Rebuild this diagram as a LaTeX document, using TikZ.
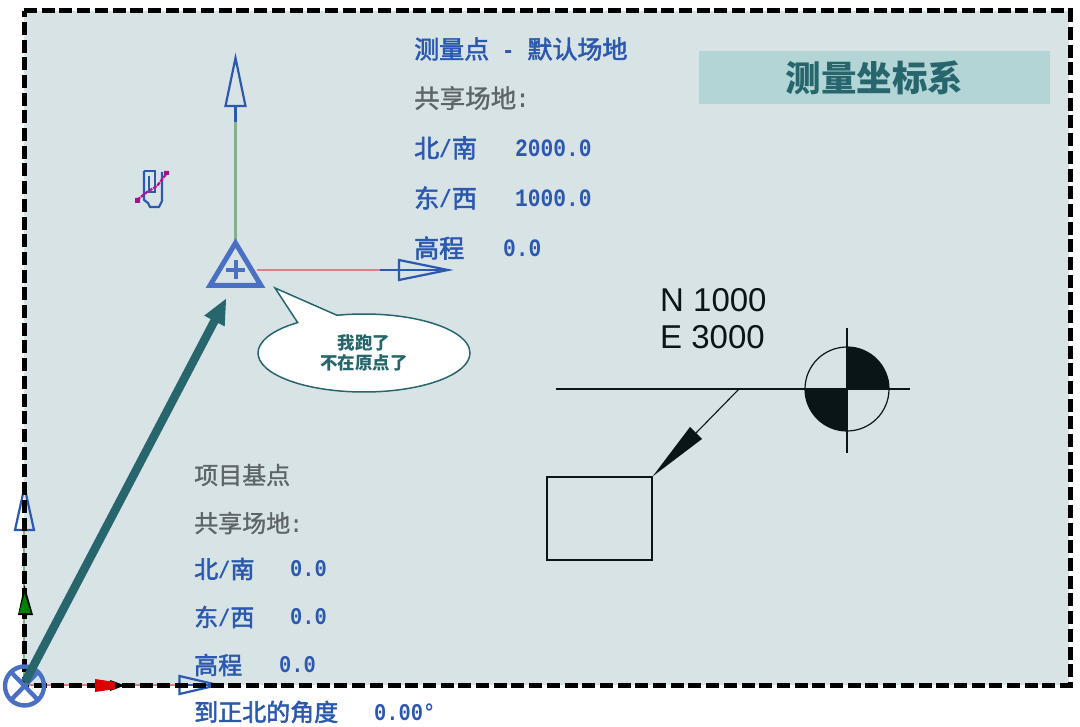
\documentclass[tikz,border=0pt]{standalone}
\usepackage{fontspec}
\setmainfont{Liberation Sans}
\newfontfamily\cjkf{Noto Sans CJK SC}
\newfontfamily\cjkb[FakeBold=2.2]{Noto Sans CJK SC}
\newfontfamily\cjkg[FakeBold=1.2]{Noto Sans CJK SC}
\newfontfamily\monof[FakeStretch=0.85]{Liberation Mono Bold}
\newcommand{\mo}[1]{{\monof #1}}
\usetikzlibrary{arrows.meta,shapes.callouts,shapes.geometric}
\definecolor{panel}{HTML}{D8E3E6}
\definecolor{titlebg}{HTML}{B4D5D6}
\definecolor{teal}{HTML}{26666C}
\definecolor{rvtblue}{HTML}{2C59B0}
\definecolor{markblue}{HTML}{4A70C4}
\definecolor{graytxt}{HTML}{5E6568}
\definecolor{axgreen}{HTML}{86B08C}
\definecolor{axred}{HTML}{DD8086}
\definecolor{ink}{HTML}{0A1518}
\tikzset{
  bluelab/.style={anchor=west,inner sep=0pt,text=rvtblue,font=\cjkb\fontsize{#1}{#1}\selectfont},
  graylab/.style={anchor=west,inner sep=0pt,text=graytxt,font=\cjkg\fontsize{#1}{#1}\selectfont},
  numup/.style={anchor=west,inner sep=0pt,text=rvtblue,font=\monof\fontsize{25}{25}\selectfont},
  numlo/.style={anchor=west,inner sep=0pt,text=rvtblue,font=\monof\fontsize{24}{24}\selectfont},
  thinblack/.style={draw=ink,line width=1.2pt},
  coord/.style={anchor=west,inner sep=0pt,text=ink,font=\fontsize{33}{33}\selectfont},
}
\begin{document}
\begin{tikzpicture}[x=1pt,y=-1pt]
\useasboundingbox (0,0) rectangle (1080,727);
\fill[white] (0,0) rectangle (1080,727);
\fill[panel] (24,11) rectangle (1069,685);

% title
\node[fill=titlebg,minimum width=351pt,minimum height=53pt,inner sep=0pt,text=teal,font=\cjkf\bfseries\fontsize{35.5}{35.5}\selectfont] (title) at (874.5,77.5) {测量坐标系};

% survey point axes
\coordinate (sp) at (235.5,270);
\coordinate (spTop) at (235.5,243);
\coordinate (spRight) at (257,270);
\coordinate (upA) at (235.5,122);
\coordinate (upB) at (235.5,106);
\coordinate (upTip) at (235.5,58);
\coordinate (rgA) at (380,270);
\coordinate (rgB) at (399,270);
\coordinate (rgTip) at (448,270);
\draw[axgreen,line width=2.4pt] (spTop) -- (upA);
\draw[rvtblue,line width=2.4pt] (upA) -- (upB);
\draw[rvtblue,line width=2.2pt,line join=miter] (225.5,106) -- (upTip) -- (245.5,106) -- cycle;
\draw[axred,line width=2.6pt] (spRight) -- (rgA);
\draw[rvtblue,line width=2.2pt] (rgA) -- (rgTip);
\draw[rvtblue,line width=2.2pt] (399,260) -- (rgTip) -- (399,280) -- cycle;

% survey point mark
\draw[markblue,line width=5pt,line join=miter] (210,285.5) -- (spTop) -- (261,285.5) -- cycle;
\draw[markblue,line width=4pt] (226,270) -- (245,270) (235.5,260.5) -- (235.5,279.5);

% small site icon
\draw[rvtblue,line width=2.2pt,line join=round] (144,171) -- (144,200) -- (148,203) -- (150,207) -- (159,207) -- (162,201) -- (162,172);
\draw[rvtblue,line width=2.2pt] (144,171) -- (155,171) -- (155,192) -- (149,192) -- (149,176);
\draw[magenta!80!blue,line width=2.2pt,dash pattern=on 4pt off 1pt] (137,200) -- (147,192) -- (157,186) -- (167,173);
\fill[magenta!60!blue] (135,198) rectangle (140,203) (164,171) rectangle (169,175);

% callout
\node[ellipse callout,draw=teal,line width=1.5pt,fill=white,minimum width=212pt,minimum height=78pt,inner sep=0pt,
  callout absolute pointer={(275,288)},callout pointer arc=24,text=teal,align=center,
  font=\cjkf\bfseries\fontsize{17.5}{20}\selectfont] (bubble) at (364,353) {我跑了\\不在原点了};

% text of survey point
\node[bluelab=25] (t1) at (414,49) {测量点\mo{ - }默认场地};
\node[graylab=25.5] (t2) at (414,98) {共享场地\mo{:}};
\node[bluelab=25] (t3) at (414,148) {北\mo{/}南};
\node[numup] (v3) at (515,148) {2000.0};
\node[bluelab=25] (t4) at (414,198) {东\mo{/}西};
\node[numup] (v4) at (515,198) {1000.0};
\node[bluelab=25] (t5) at (414,248) {高程};
\node[numup] (v5) at (503,248) {0.0};

% text of project base point
\node[graylab=24] (p1) at (194,475) {项目基点};
\node[graylab=24] (p2) at (194,523) {共享场地\mo{:}};
\node[bluelab=24] (p3) at (194,569) {北\mo{/}南};
\node[numlo] (w3) at (290,569) {0.0};
\node[bluelab=24] (p4) at (194,617) {东\mo{/}西};
\node[numlo] (w4) at (290,617) {0.0};
\node[bluelab=24] (p5) at (194,665) {高程};
\node[numlo] (w5) at (279,665) {0.0};
\node[bluelab=24] (p6) at (194,712) {到正北的角度};
\node[numlo] (w6) at (374,712) {0.00°};

% spot coordinate symbol
\node[coord] (n) at (660,300) {N 1000};
\node[coord] (e) at (660,337) {E 3000};
\coordinate (sc) at (847,389);
\fill[ink] (sc) -- (847,347) arc[start angle=90,end angle=0,radius=42pt] -- cycle;
\fill[ink] (sc) -- (847,431) arc[start angle=-90,end angle=-180,radius=42pt] -- cycle;
\draw[thinblack] (sc) circle[radius=42pt];
\draw[thinblack,line width=1.6pt] (556,389) -- (910,389);
\draw[thinblack,line width=1.5pt] (847,328) -- (847,453);
\node[draw=ink,line width=1.3pt,minimum width=105pt,minimum height=83pt,inner sep=0pt] (box) at (599.5,518.5) {};
\coordinate (lead) at (739,389);
\coordinate (wedge) at (696,433);
\draw[thinblack,line width=1.1pt] (lead) -- (wedge);
\fill[ink] (box.north east) -- (690,427) -- (702,439) -- cycle;

% project base axes under border
\coordinate (pb) at (24,685);
\draw[axred,line width=2.6pt] (pb) -- (180,685);
\draw[rvtblue,line width=2.6pt] (180,685) -- (218,685);
\draw[axgreen,line width=2.6pt] (pb) -- (24,530);

% project base symbols
\draw[rvtblue,line width=2.2pt] (15,530) -- (24.5,487) -- (34,530) -- cycle;
\draw[rvtblue,line width=2.2pt] (179.5,676) -- (218,685) -- (179.5,694) -- cycle;

% dashed border
\draw[black,line width=5pt,dash pattern=on 13pt off 4.7pt] (24,11) -- (1070,11) -- (1070,685) -- (24,685) -- cycle;

\fill[black] (24.5,585) -- (18,615) -- (33,615) -- cycle;
\fill[green!50!black] (24.5,594) -- (19,613) -- (31,613) -- cycle;
\fill[black] (125,685.5) -- (110,680) -- (110,691) -- cycle;
\fill[red!85!black] (95,679) -- (115,682) -- (115,689) -- (95,692) -- cycle;

\draw[markblue,line width=4.4pt] (24.5,686) circle[radius=19.5pt];
\draw[markblue,line width=4.4pt] (11,672) -- (38,700) (38,672) -- (11,700);

% big arrow
\coordinate (bigStart) at (25,682);
\coordinate (bigTip) at (226.5,298);
\draw[teal,line width=8.5pt,-{Triangle[length=26pt,width=21pt]}] (bigStart) -- (bigTip);
\end{tikzpicture}
\end{document}
